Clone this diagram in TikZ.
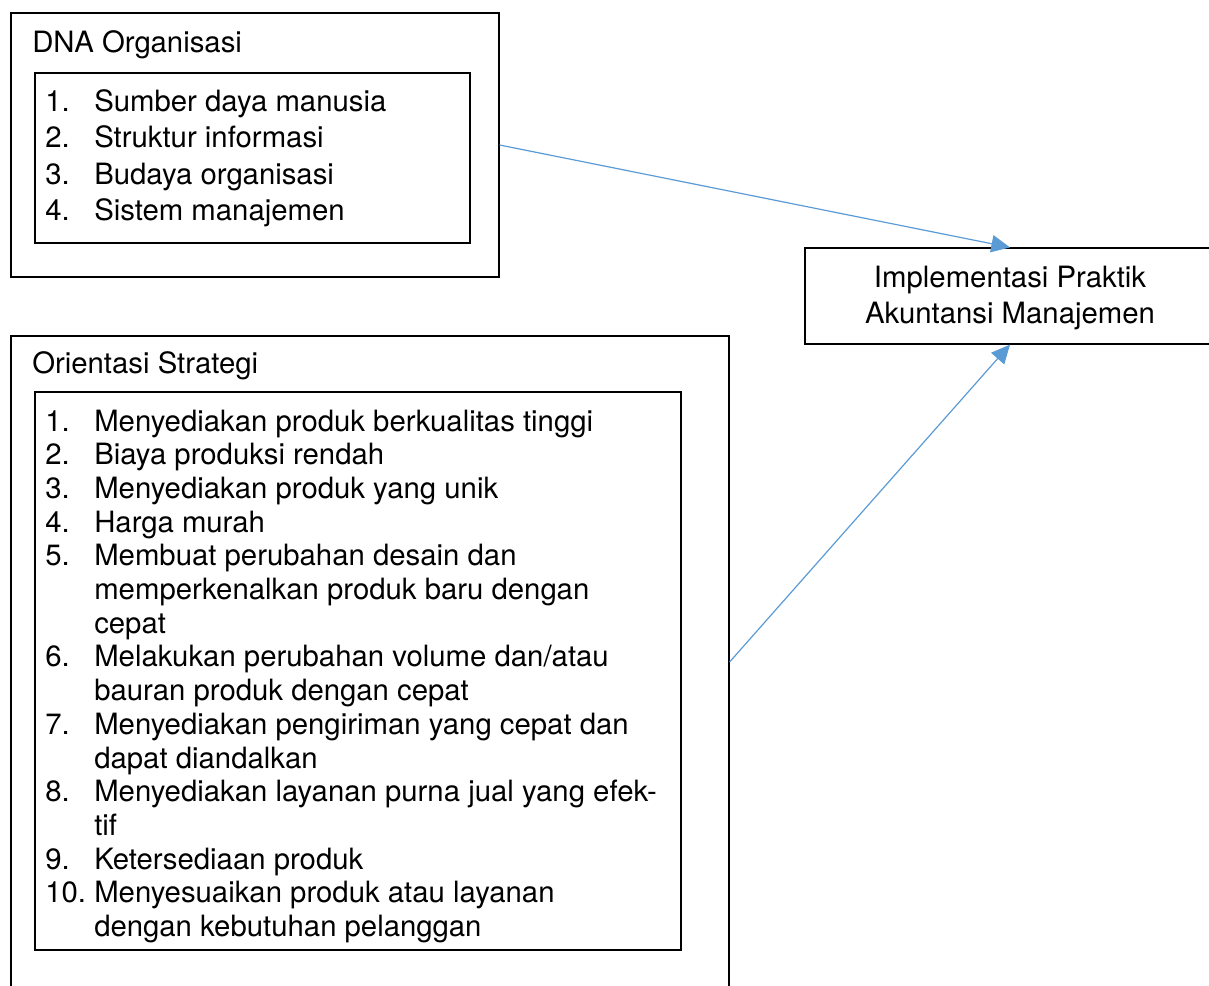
\documentclass[tikz,border=0pt]{standalone}
\usepackage{fontspec}
\setmainfont{TeX Gyre Heros}
\usetikzlibrary{fit,arrows.meta}
\definecolor{arrowblue}{HTML}{5B9BD5}
\tikzset{
  box/.style={draw=black, line width=0.9pt, inner sep=0pt},
  txt/.style={anchor=base west, inner sep=0pt, font=\fontsize{22}{26}\selectfont},
  ctxt/.style={anchor=base, inner sep=0pt, font=\fontsize{22}{26}\selectfont},
  conn/.style={draw=arrowblue, line width=0.9pt, -{Triangle[length=14pt,width=13pt]}}
}
\begin{document}
\begin{tikzpicture}[x=0.75pt,y=-0.75pt]
\useasboundingbox (0,0) rectangle (1209,985);
\clip (0,0) rectangle (1209,985);
% boxes
\node[box, fit={(11,13) (499,277)}] (dna) {};
\node[box, fit={(35,73) (470,243)}] (dnalist) {};
\node[box, fit={(805,248) (1215,344)}] (impl) {};
\node[box, fit={(11,336) (729,988)}] (ori) {};
\node[box, fit={(35,392) (681,950)}] (orilist) {};
% titles
\node[txt] (dnatitle) at (32,52) {DNA Organisasi};
\node[txt] (orititle) at (32,373) {Orientasi Strategi};
\node[ctxt] (impl1) at (1010,287) {Implementasi Praktik};
\node[ctxt] (impl2) at (1010,323) {Akuntansi Manajemen};
% DNA list
\foreach \i/\num/\t in {0/1./{Sumber daya manusia},1/2./{Struktur informasi},2/3./{Budaya organisasi},3/4./{Sistem manajemen}}{
  \node[txt] (dnanum\i) at (45,111.5+36.3*\i) {\num};
  \node[txt] (dnaitem\i) at (94,111.5+36.3*\i) {\t};
}
% Orientasi list
\foreach \i/\num/\t in {
  0/{1.}/{Menyediakan produk berkualitas tinggi},
  1/{2.}/{Biaya produksi rendah},
  2/{3.}/{Menyediakan produk yang unik},
  3/{4.}/{Harga murah},
  4/{5.}/{Membuat perubahan desain dan},
  5/{}/{memperkenalkan produk baru dengan},
  6/{}/{cepat},
  7/{6.}/{Melakukan perubahan volume dan/atau},
  8/{}/{bauran produk dengan cepat},
  9/{7.}/{Menyediakan pengiriman yang cepat dan},
  10/{}/{dapat diandalkan},
  11/{8.}/{Menyediakan layanan purna jual yang efek-},
  12/{}/{tif},
  13/{9.}/{Ketersediaan produk},
  14/{10.}/{Menyesuaikan produk atau layanan},
  15/{}/{dengan kebutuhan pelanggan}}{
  \node[txt] (orinum\i) at (45,431+33.7*\i) {\num};
  \node[txt] (oriitem\i) at (94,431+33.7*\i) {\t};
}
% connectors
\draw[conn] (dna.east) -- (impl.north);
\draw[conn] (ori.east) -- (impl.south);
\end{tikzpicture}
\end{document}
